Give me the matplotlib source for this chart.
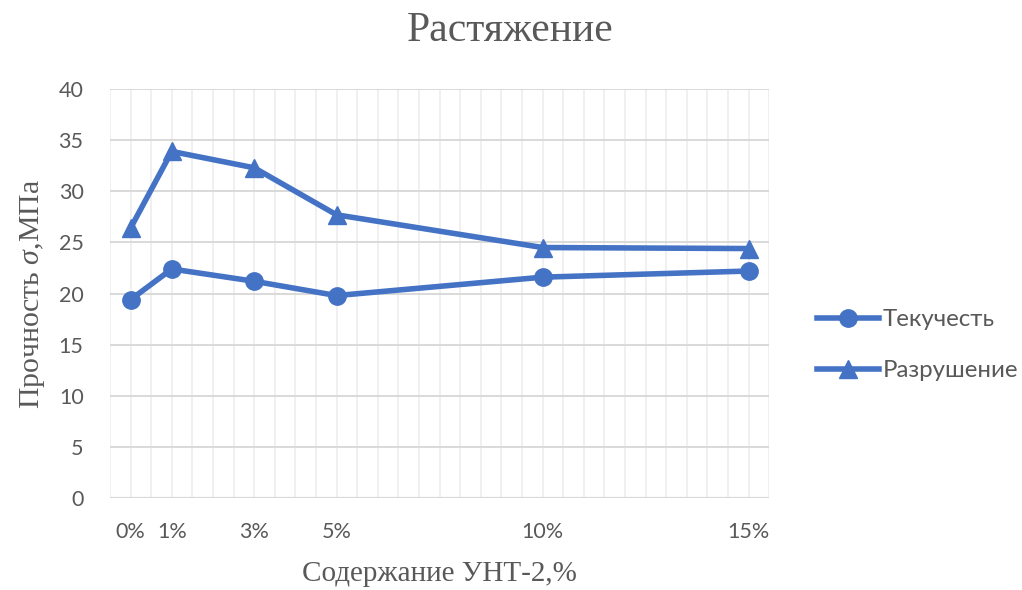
import matplotlib
matplotlib.use("Agg")
import matplotlib.pyplot as plt
import numpy as np

x_vals = [0, 1, 3, 5, 10, 15]
x_labels = ["0%", "1%", "3%", "5%", "10%", "15%"]
yield_vals = [19.4, 22.4, 21.2, 19.8, 21.6, 22.2]
break_vals = [26.4, 33.9, 32.3, 27.7, 24.5, 24.4]
series_names = ["Текучесть", "Разрушение"]
title = "Растяжение"
xlabel = "Содержание УНТ-2,%"
ylabel = "Прочность $\\mathit{\\sigma}$,МПа"

plt.rcParams["mathtext.fontset"] = "custom"
plt.rcParams["mathtext.rm"] = "Liberation Serif"
plt.rcParams["mathtext.it"] = "Liberation Serif:italic"

blue = "#4472C4"
gray = "#595959"
sans = ["Lato", "Open Sans", "DejaVu Sans"]
serif = "Liberation Serif"

fig = plt.figure(figsize=(10.22, 5.9), dpi=100)
ax = fig.add_axes([0.1076, 0.156, 0.645, 0.693])

ax.plot(x_vals, yield_vals, color=blue, lw=4.0, marker="o", ms=12.5, label=series_names[0], zorder=3)
ax.plot(x_vals, break_vals, color=blue, lw=4.0, marker="^", ms=13, label=series_names[1], zorder=3)

ax.set_xlim(-0.5, 15.5)
ax.set_ylim(0, 40)
ax.set_yticks(np.arange(0, 41, 5))
ax.set_xticks(x_vals)
ax.set_xticklabels(x_labels)

for v in np.arange(-0.5, 15.51, 0.5):
    ax.axvline(v, color="#EFEFEF", lw=1.3, zorder=0)
for v in np.arange(5, 41, 5):
    ax.axhline(v, color="#D9D9D9", lw=1.4, zorder=1)
ax.axhline(0, color="#D9D9D9", lw=1.6, zorder=1)

for s in ax.spines.values():
    s.set_visible(False)
ax.tick_params(which="both", length=0)
ax.tick_params(axis="both", labelsize=15.5, labelcolor=gray)
ax.tick_params(axis="y", pad=19)
ax.tick_params(axis="x", pad=17)
for lab in ax.get_xticklabels() + ax.get_yticklabels():
    lab.set_family(sans)

fig.text(0.499, 0.948, title, ha="center", va="center", fontsize=30, color=gray, family=serif)
ax.set_xlabel(xlabel, fontsize=21, color=gray, family=serif, labelpad=14)
ax.set_ylabel(ylabel, fontsize=21.5, color=gray, family=serif, labelpad=8)

leg = fig.legend(loc="center left", bbox_to_anchor=(0.778, 0.415), frameon=False,
                 handlelength=2.6, handletextpad=0.15, labelspacing=1.25,
                 prop={"family": sans, "size": 17.3})
for t in leg.get_texts():
    t.set_color(gray)

fig.savefig("out.png", dpi=100)
